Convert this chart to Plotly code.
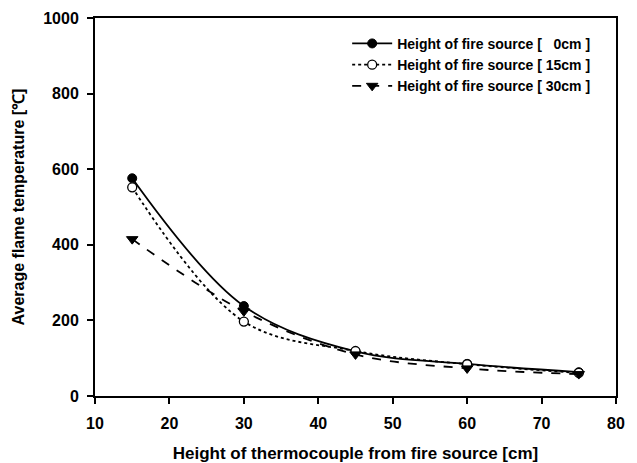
import plotly.graph_objects as go

x_vals = [15, 30, 45, 60, 75]
temp_0cm = [576, 238, 118, 85, 63]
temp_15cm = [552, 197, 119, 84, 61]
temp_30cm = [415, 224, 110, 73, 58]

names = ["Height of fire source [\u00a0\u00a0\u00a00cm ]",
         "Height of fire source [ 15cm ]",
         "Height of fire source [ 30cm ]"]

x_ticks = [10, 20, 30, 40, 50, 60, 70, 80]
y_ticks = [0, 200, 400, 600, 800, 1000]

FONT = "Liberation Sans, Arial, sans-serif"

fig = go.Figure()
fig.add_trace(go.Scatter(
    x=x_vals, y=temp_0cm, name=names[0], mode="lines+markers",
    line=dict(color="black", width=1.8, dash="solid", shape="spline", smoothing=1.0),
    marker=dict(symbol="circle", size=9, color="black", line=dict(color="black", width=1))))
fig.add_trace(go.Scatter(
    x=x_vals, y=temp_15cm, name=names[1], mode="lines+markers",
    line=dict(color="black", width=1.8, dash="dot", shape="spline", smoothing=1.0),
    marker=dict(symbol="circle", size=9, color="white", line=dict(color="black", width=1.3))))
fig.add_trace(go.Scatter(
    x=x_vals, y=temp_30cm, name=names[2], mode="lines+markers",
    line=dict(color="black", width=1.8, dash="dash", shape="spline", smoothing=1.0),
    marker=dict(symbol="triangle-down", size=10, color="black", line=dict(color="black", width=1))))

fig.update_layout(
    width=629, height=455,
    margin=dict(l=87, r=21, t=10, b=67, autoexpand=False),
    paper_bgcolor="white", plot_bgcolor="white",
    font=dict(family=FONT, color="black", size=14, weight="bold"),
    showlegend=True,
    legend=dict(x=0.484, y=0.974, xanchor="left", yanchor="top",
                font=dict(family=FONT, size=14, color="black", weight="bold"),
                bgcolor="rgba(0,0,0,0)", borderwidth=0,
                tracegroupgap=0, itemwidth=40),
)
fig.update_xaxes(
    range=[10, 80], tickvals=x_ticks, ticktext=[str(v) for v in x_ticks],
    showgrid=False, zeroline=False, showline=True, linecolor="black", linewidth=2,
    mirror=True, ticks="outside", ticklen=6, tickwidth=2, tickcolor="black",
    ticklabelstandoff=6,
    tickfont=dict(family=FONT, size=16, color="black", weight="bold"),
    title=dict(text="Height of thermocouple from fire source [cm]",
               font=dict(family=FONT, size=17, color="black", weight="bold"), standoff=16),
)
fig.update_yaxes(
    range=[0, 1000], tickvals=y_ticks, ticktext=[str(v) for v in y_ticks],
    showgrid=False, zeroline=False, showline=True, linecolor="black", linewidth=2,
    mirror=True, ticks="outside", ticklen=6, tickwidth=2, tickcolor="black",
    ticklabelstandoff=5,
    tickfont=dict(family=FONT, size=16, color="black", weight="bold"),
    title=dict(text="Average flame temperature [\u2103]",
               font=dict(family=FONT, size=16, color="black", weight="bold"), standoff=15),
)

fig.write_html("out.html")
